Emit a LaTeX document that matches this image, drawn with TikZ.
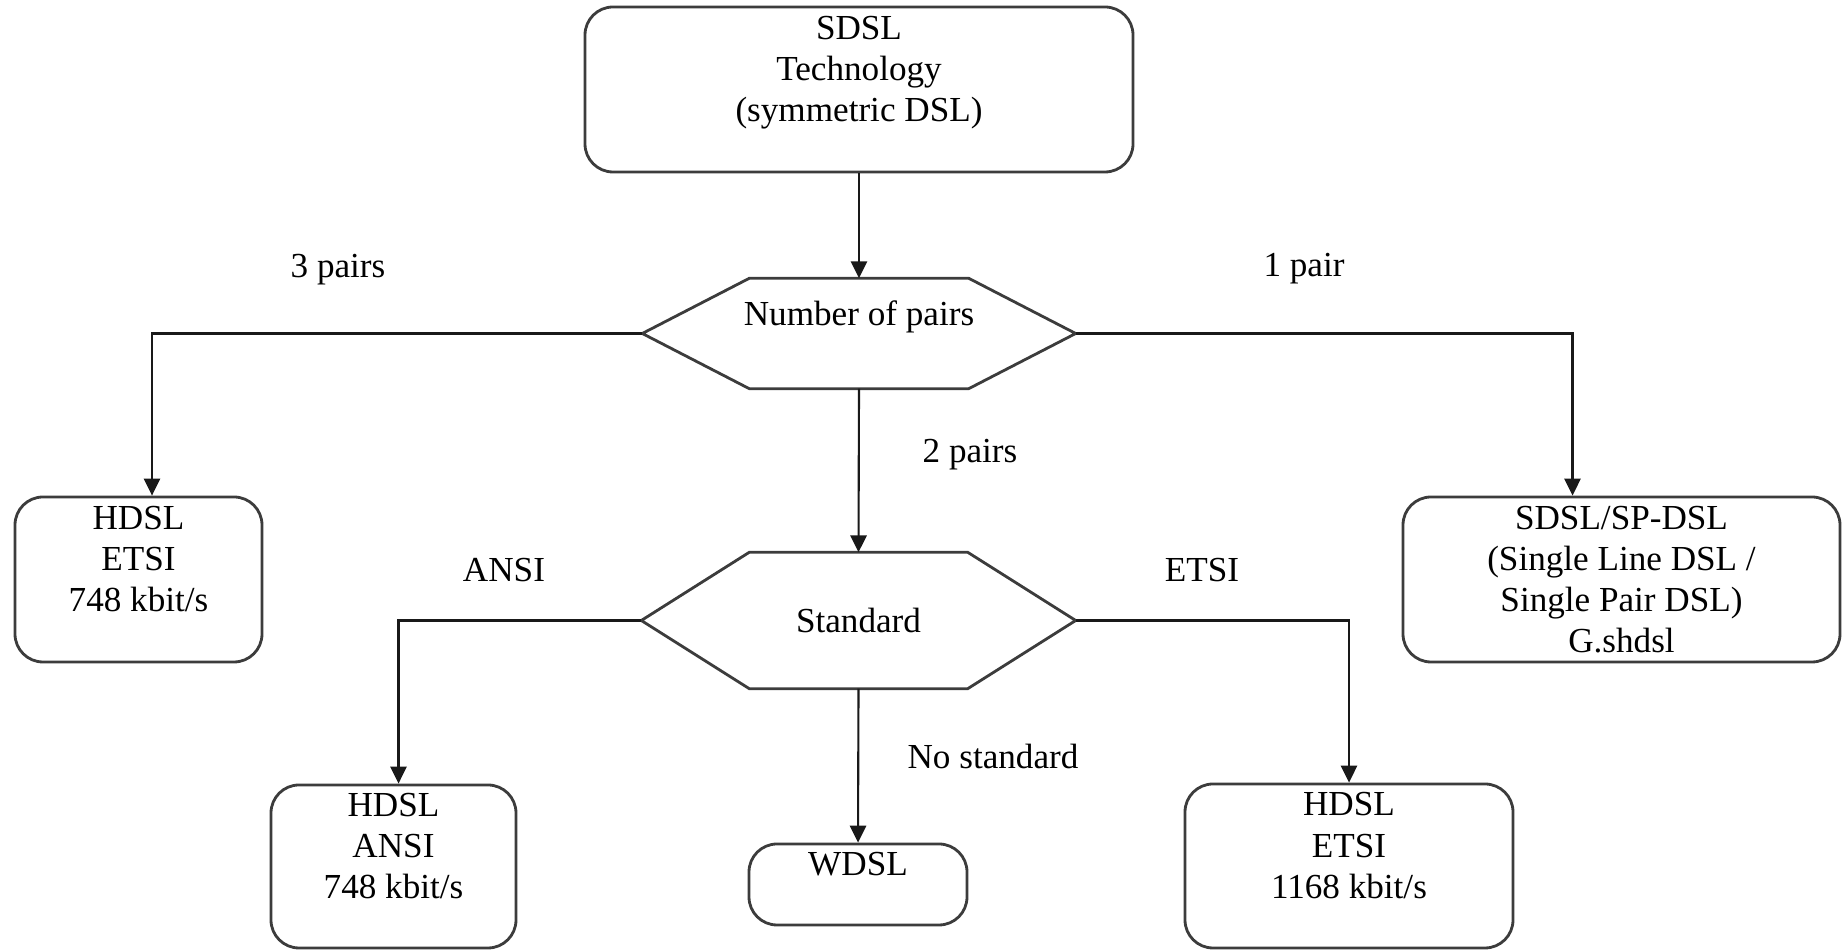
\documentclass[tikz,border=0pt]{standalone}
\usepackage{fontspec}
\setmainfont{Liberation Serif}
\usetikzlibrary{calc}
\usetikzlibrary{arrows.meta}
\definecolor{c1}{RGB}{25,25,25}
\definecolor{c2}{RGB}{60,60,60}

\tikzset{
  box/.style={draw=c2,line width=0.8pt,rounded corners=0.28cm,align=center,inner sep=0pt},
  hexnode/.style={inner sep=0pt,align=center},
  hexline/.style={draw=c2,line width=0.8pt},
  link/.style={draw=c1,line width=0.6pt,-{Triangle[length=4.8pt,width=4.6pt]}},
  branch/.style={inner sep=0pt}
}
% hexagon round a plain node: #1 node name, #2 depth of the points
\newcommand{\hexframe}[2]{%
  \draw[hexline] (#1.west) -- ($(#1.north west)+(#2,0)$) -- ($(#1.north east)+(-#2,0)$)
    -- (#1.east) -- ($(#1.south east)+(-#2,0)$) -- ($(#1.south west)+(#2,0)$) -- cycle;}

\begin{document}
\begin{tikzpicture}[font=\fontsize{10}{11.7}\selectfont]
    \useasboundingbox (0,0) rectangle (18.44,-9.51);

    % top box
    \node[box,minimum width=5.48cm,minimum height=1.65cm] (tech) at (8.59,-0.895) {SDSL\\Technology\\(symmetric DSL)\\~};

    % first decision: number of pairs
    \node[hexnode,minimum width=4.32cm,minimum height=1.09cm] (pairs) at (8.59,-3.335) {Number of pairs\\~};
    \hexframe{pairs}{1.07}

    % the two outer results
    \node[box,minimum width=2.47cm,minimum height=1.65cm] (hdslE) at (1.385,-5.795) {HDSL\\ETSI\\748 kbit/s\\~};
    \node[box,minimum width=4.37cm,minimum height=1.65cm] (sdsl) at (16.215,-5.795) {SDSL/SP-DSL\\(Single Line DSL /\\Single Pair DSL)\\G.shdsl};

    % second decision: standard
    \node[hexnode,minimum width=4.33cm,minimum height=1.35cm] (std) at (8.585,-6.205) {Standard};
    \hexframe{std}{1.08}

    % bottom row
    \node[box,minimum width=2.45cm,minimum height=1.63cm] (hdslA) at (3.935,-8.665) {HDSL\\ANSI\\748 kbit/s\\~};
    \node[box,minimum width=2.18cm,minimum height=0.81cm] (wdsl) at (8.58,-8.845) {WDSL\\~};
    \node[box,minimum width=3.28cm,minimum height=1.64cm] (hdslE2) at (13.49,-8.66) {HDSL\\ETSI\\1168 kbit/s\\~};

    % branch texts
    \node[branch] (l3) at (3.38,-2.70) {3 pairs};
    \node[branch] (l1) at (13.04,-2.69) {1 pair};
    \node[branch] (l2) at (9.70,-4.55) {2 pairs};
    \node[branch] (lansi) at (5.04,-5.70) {ANSI};
    \node[branch] (letsi) at (12.02,-5.70) {ETSI};
    \node[branch] (lnone) at (9.93,-7.56) {No standard};

    % connectors
    \draw[link] (tech.south) -- (pairs.north);
    \draw[link] (pairs.west) -| ([xshift=1.35mm]hdslE.north);
    \draw[link] (pairs.east) -| ([xshift=-4.9mm]sdsl.north);
    \draw[link] (pairs.south) -- (std.north);
    \draw[link] (std.west) -| ([xshift=0.5mm]hdslA.north);
    \draw[link] (std.east) -| (hdslE2.north);
    \draw[link] (std.south) -- (wdsl.north);
\end{tikzpicture}
\end{document}
